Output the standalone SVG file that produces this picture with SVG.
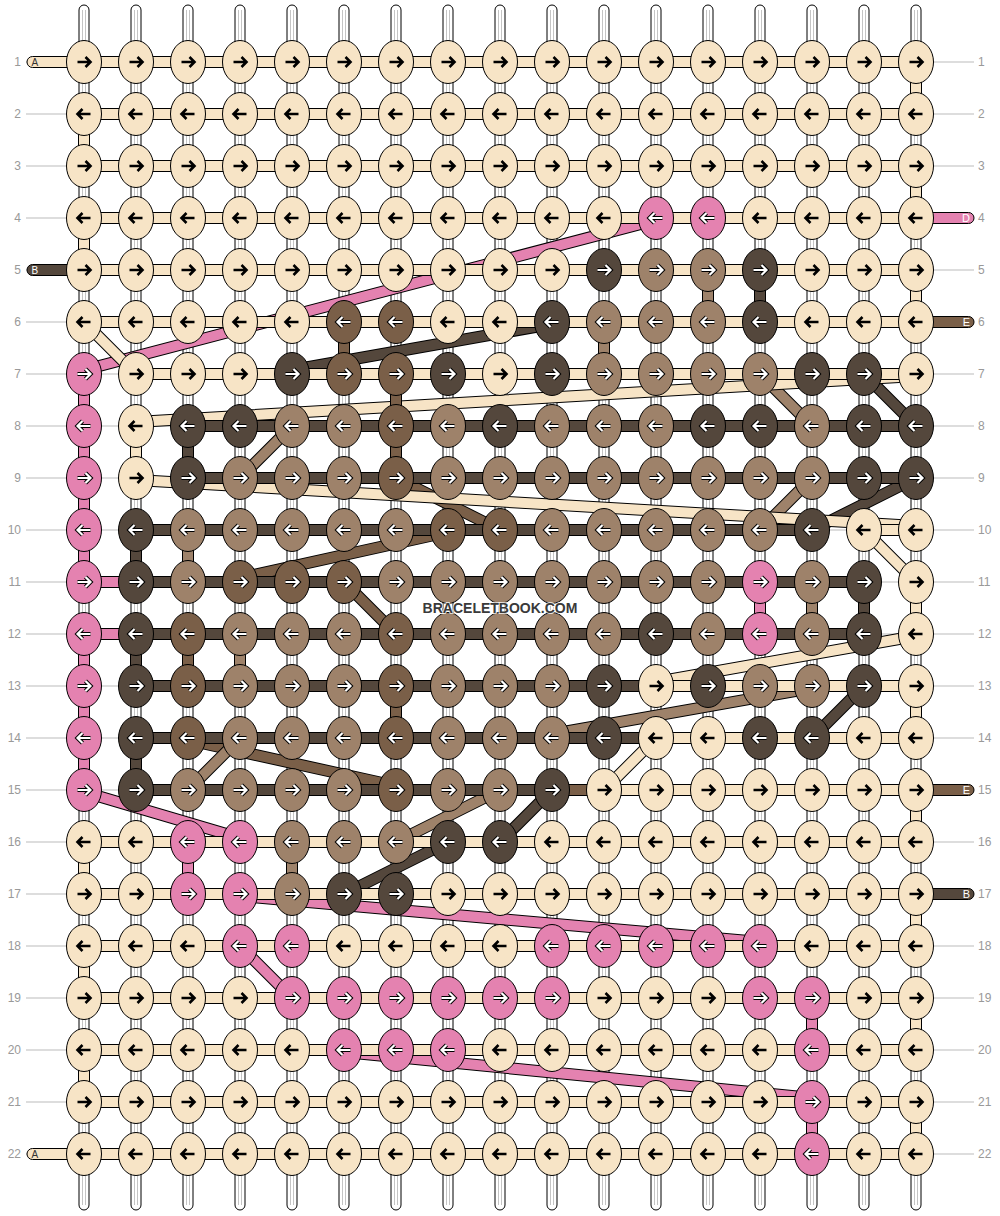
<svg xmlns="http://www.w3.org/2000/svg" xmlns:xlink="http://www.w3.org/1999/xlink" width="1000" height="1216" viewBox="0 0 1000 1216">
<style>
.rl{stroke:#bbb;stroke-width:1;fill:none}
.nl,.nr{font-family:"Liberation Sans",Arial,sans-serif;font-size:12px;fill:#999}
.nl{text-anchor:end}
.b{stroke:#000;stroke-width:1}
.w{fill:#F7E4C6}.p{fill:#E482B0}.l{fill:#9E826A}.m{fill:#7A5F48}.k{fill:#54473C}
.o,.sw,.sp,.sl,.sm,.sk{fill:none}
.o{stroke:#000;stroke-width:12}
.sw{stroke:#F7E4C6;stroke-width:10}.sp{stroke:#E482B0;stroke-width:10}.sl{stroke:#9E826A;stroke-width:10}.sm{stroke:#7A5F48;stroke-width:10}.sk{stroke:#54473C;stroke-width:10}
.tl{font-family:"Liberation Sans",Arial,sans-serif;font-size:10px}
.tr{font-family:"Liberation Sans",Arial,sans-serif;font-size:11px;text-anchor:end;fill:#fff}
.wm{font-family:"Liberation Sans",Arial,sans-serif;font-size:14px;font-weight:bold;text-anchor:middle;fill:#3a3a3a;stroke:#fff;stroke-width:2;stroke-opacity:.8;paint-order:stroke}
</style>
<defs>
<g id="wp"><rect x="-5" y="5" width="10" height="1205" rx="5" fill="#fff" stroke="#000" stroke-width="1"/><path d="M-1.5 10V1205M1.5 10V1205" stroke="#c4c4c4" stroke-width="1"/></g>
<ellipse id="e" rx="17.5" ry="21.5" stroke="#000" stroke-width="1"/>
<path id="ar" d="M-6.5 0H6M1.5-5 6.5 0 1.5 5" fill="none"/>
<path id="al" d="M6.5 0H-6M-1.5-5-6.5 0-1.5 5" fill="none"/>
<g id="W1"><use href="#e" fill="#F7E4C6"/><use href="#ar" stroke="#000" stroke-width="2.6"/></g>
<g id="W2"><use href="#e" fill="#F7E4C6"/><use href="#al" stroke="#000" stroke-width="2.6"/></g>
<g id="P1"><use href="#e" fill="#E482B0"/><use href="#ar" stroke="#000" stroke-width="4.2"/><use href="#ar" stroke="#fff" stroke-width="2.2"/></g>
<g id="P2"><use href="#e" fill="#E482B0"/><use href="#al" stroke="#000" stroke-width="4.2"/><use href="#al" stroke="#fff" stroke-width="2.2"/></g>
<g id="L1"><use href="#e" fill="#9E826A"/><use href="#ar" stroke="#000" stroke-width="4.2"/><use href="#ar" stroke="#fff" stroke-width="2.2"/></g>
<g id="L2"><use href="#e" fill="#9E826A"/><use href="#al" stroke="#000" stroke-width="4.2"/><use href="#al" stroke="#fff" stroke-width="2.2"/></g>
<g id="M1"><use href="#e" fill="#7A5F48"/><use href="#ar" stroke="#000" stroke-width="4.2"/><use href="#ar" stroke="#fff" stroke-width="2.2"/></g>
<g id="M2"><use href="#e" fill="#7A5F48"/><use href="#al" stroke="#000" stroke-width="4.2"/><use href="#al" stroke="#fff" stroke-width="2.2"/></g>
<g id="K1"><use href="#e" fill="#54473C"/><use href="#ar" stroke="#000" stroke-width="4.2"/><use href="#ar" stroke="#fff" stroke-width="2.2"/></g>
<g id="K2"><use href="#e" fill="#54473C"/><use href="#al" stroke="#000" stroke-width="4.2"/><use href="#al" stroke="#fff" stroke-width="2.2"/></g>
</defs>
<rect width="1000" height="1216" fill="#fff"/>
<path class="rl" d="M26 62H974M26 114H974M26 166H974M26 218H974M26 270H974M26 322H974M26 374H974M26 426H974M26 478H974M26 530H974M26 582H974M26 634H974M26 686H974M26 738H974M26 790H974M26 842H974M26 894H974M26 946H974M26 998H974M26 1050H974M26 1102H974M26 1154H974"/>
<g id="warps">
<use href="#wp" x="84"/><use href="#wp" x="136"/><use href="#wp" x="188"/><use href="#wp" x="240"/><use href="#wp" x="292"/><use href="#wp" x="344"/><use href="#wp" x="396"/><use href="#wp" x="448"/><use href="#wp" x="500"/><use href="#wp" x="552"/><use href="#wp" x="604"/><use href="#wp" x="656"/><use href="#wp" x="708"/><use href="#wp" x="760"/><use href="#wp" x="812"/><use href="#wp" x="864"/><use href="#wp" x="916"/>
</g>
<g id="connectors">
<rect class="b w" x="27" y="56.5" width="60" height="11" rx="5.5"/>
<rect class="b k" x="27" y="264.5" width="60" height="11" rx="5.5"/>
<rect class="b w" x="27" y="1148.5" width="60" height="11" rx="5.5"/>
<rect class="b p" x="910" y="212.5" width="64" height="11" rx="5.5"/>
<rect class="b m" x="910" y="316.5" width="64" height="11" rx="5.5"/>
<rect class="b m" x="910" y="784.5" width="64" height="11" rx="5.5"/>
<rect class="b k" x="910" y="888.5" width="64" height="11" rx="5.5"/>
<path class="o" d="M656 220L84 370M84 792L240 838M240 896L760 942M240 946L292 998M344 1052L812 1098"/>
<path class="sp" d="M656 220L84 370M84 792L240 838M240 896L760 942M240 946L292 998M344 1052L812 1098"/>
<path class="o" d="M396 478L500 530M448 532L240 578M344 582L396 634M188 740L396 786"/>
<path class="sm" d="M396 478L500 530M448 532L240 578M344 582L396 634M188 740L396 786"/>
<path class="o" d="M760 374L812 426M292 426L240 478M812 478L760 530M812 688L552 734M240 738L188 790M500 790L396 842"/>
<path class="sl" d="M760 374L812 426M292 426L240 478M812 478L760 530M812 688L552 734M240 738L188 790M500 790L396 842"/>
<path class="o" d="M552 324L292 370M864 374L916 426M916 478L812 530M864 686L812 738M552 790L500 842M448 842L344 894"/>
<path class="sk" d="M552 324L292 370M864 374L916 426M916 478L812 530M864 686L812 738M552 790L500 842M448 842L344 894"/>
<path class="o" d="M84 322L136 374M916 376L136 422M136 480L916 526M864 530L916 582M916 636L656 682M656 738L604 790"/>
<path class="sw" d="M84 322L136 374M916 376L136 422M136 480L916 526M864 530L916 582M916 636L656 682M656 738L604 790"/>
<path class="b p" d="M84 576.5h52v11h-52zM84 628.5h52v11h-52zM78.5 374h11v52h-11zM78.5 426h11v52h-11zM78.5 478h11v52h-11zM78.5 530h11v52h-11zM78.5 634h11v52h-11zM78.5 686h11v52h-11zM78.5 738h11v52h-11zM754.5 582h11v52h-11zM182.5 842h11v52h-11zM806.5 998h11v52h-11zM806.5 1102h11v52h-11z"/>
<path class="b m" d="M552 784.5h52v11h-52zM338.5 322h11v52h-11zM390.5 374h11v52h-11zM390.5 426h11v52h-11zM390.5 686h11v52h-11zM182.5 634h11v52h-11z"/>
<path class="b l" d="M702.5 270h11v52h-11zM598.5 322h11v52h-11zM182.5 530h11v52h-11zM806.5 582h11v52h-11zM234.5 634h11v52h-11zM286.5 842h11v52h-11z"/>
<path class="b k" d="M188 420.5h728v11h-728zM188 472.5h728v11h-728zM136 524.5h676v11h-676zM136 576.5h728v11h-728zM136 628.5h728v11h-728zM136 680.5h520v11h-520zM136 732.5h520v11h-520zM136 784.5h416v11h-416zM754.5 270h11v52h-11zM182.5 426h11v52h-11zM130.5 530h11v52h-11zM130.5 634h11v52h-11zM130.5 738h11v52h-11zM858.5 582h11v52h-11z"/>
<path class="b w" d="M84 56.5h832v11h-832zM84 108.5h832v11h-832zM84 160.5h832v11h-832zM84 212.5h832v11h-832zM84 264.5h832v11h-832zM84 316.5h832v11h-832zM136 368.5h780v11h-780zM864 524.5h52v11h-52zM656 680.5h260v11h-260zM656 732.5h260v11h-260zM604 784.5h312v11h-312zM84 836.5h832v11h-832zM84 888.5h832v11h-832zM84 940.5h832v11h-832zM84 992.5h832v11h-832zM84 1044.5h832v11h-832zM84 1096.5h832v11h-832zM84 1148.5h832v11h-832zM910.5 62h11v52h-11zM910.5 166h11v52h-11zM910.5 270h11v52h-11zM910.5 582h11v52h-11zM910.5 686h11v52h-11zM910.5 790h11v52h-11zM910.5 894h11v52h-11zM910.5 998h11v52h-11zM910.5 1102h11v52h-11zM78.5 114h11v52h-11zM78.5 218h11v52h-11zM78.5 842h11v52h-11zM78.5 946h11v52h-11zM78.5 1050h11v52h-11zM130.5 426h11v52h-11z"/>
</g>
<g id="knots">
<g id="k1-1"><use href="#W1" x="84" y="62"/></g><g id="k1-2"><use href="#W1" x="136" y="62"/></g><g id="k1-3"><use href="#W1" x="188" y="62"/></g><g id="k1-4"><use href="#W1" x="240" y="62"/></g><g id="k1-5"><use href="#W1" x="292" y="62"/></g><g id="k1-6"><use href="#W1" x="344" y="62"/></g><g id="k1-7"><use href="#W1" x="396" y="62"/></g><g id="k1-8"><use href="#W1" x="448" y="62"/></g><g id="k1-9"><use href="#W1" x="500" y="62"/></g><g id="k1-10"><use href="#W1" x="552" y="62"/></g><g id="k1-11"><use href="#W1" x="604" y="62"/></g><g id="k1-12"><use href="#W1" x="656" y="62"/></g><g id="k1-13"><use href="#W1" x="708" y="62"/></g><g id="k1-14"><use href="#W1" x="760" y="62"/></g><g id="k1-15"><use href="#W1" x="812" y="62"/></g><g id="k1-16"><use href="#W1" x="864" y="62"/></g><g id="k1-17"><use href="#W1" x="916" y="62"/></g>
<g id="k2-1"><use href="#W2" x="84" y="114"/></g><g id="k2-2"><use href="#W2" x="136" y="114"/></g><g id="k2-3"><use href="#W2" x="188" y="114"/></g><g id="k2-4"><use href="#W2" x="240" y="114"/></g><g id="k2-5"><use href="#W2" x="292" y="114"/></g><g id="k2-6"><use href="#W2" x="344" y="114"/></g><g id="k2-7"><use href="#W2" x="396" y="114"/></g><g id="k2-8"><use href="#W2" x="448" y="114"/></g><g id="k2-9"><use href="#W2" x="500" y="114"/></g><g id="k2-10"><use href="#W2" x="552" y="114"/></g><g id="k2-11"><use href="#W2" x="604" y="114"/></g><g id="k2-12"><use href="#W2" x="656" y="114"/></g><g id="k2-13"><use href="#W2" x="708" y="114"/></g><g id="k2-14"><use href="#W2" x="760" y="114"/></g><g id="k2-15"><use href="#W2" x="812" y="114"/></g><g id="k2-16"><use href="#W2" x="864" y="114"/></g><g id="k2-17"><use href="#W2" x="916" y="114"/></g>
<g id="k3-1"><use href="#W1" x="84" y="166"/></g><g id="k3-2"><use href="#W1" x="136" y="166"/></g><g id="k3-3"><use href="#W1" x="188" y="166"/></g><g id="k3-4"><use href="#W1" x="240" y="166"/></g><g id="k3-5"><use href="#W1" x="292" y="166"/></g><g id="k3-6"><use href="#W1" x="344" y="166"/></g><g id="k3-7"><use href="#W1" x="396" y="166"/></g><g id="k3-8"><use href="#W1" x="448" y="166"/></g><g id="k3-9"><use href="#W1" x="500" y="166"/></g><g id="k3-10"><use href="#W1" x="552" y="166"/></g><g id="k3-11"><use href="#W1" x="604" y="166"/></g><g id="k3-12"><use href="#W1" x="656" y="166"/></g><g id="k3-13"><use href="#W1" x="708" y="166"/></g><g id="k3-14"><use href="#W1" x="760" y="166"/></g><g id="k3-15"><use href="#W1" x="812" y="166"/></g><g id="k3-16"><use href="#W1" x="864" y="166"/></g><g id="k3-17"><use href="#W1" x="916" y="166"/></g>
<g id="k4-1"><use href="#W2" x="84" y="218"/></g><g id="k4-2"><use href="#W2" x="136" y="218"/></g><g id="k4-3"><use href="#W2" x="188" y="218"/></g><g id="k4-4"><use href="#W2" x="240" y="218"/></g><g id="k4-5"><use href="#W2" x="292" y="218"/></g><g id="k4-6"><use href="#W2" x="344" y="218"/></g><g id="k4-7"><use href="#W2" x="396" y="218"/></g><g id="k4-8"><use href="#W2" x="448" y="218"/></g><g id="k4-9"><use href="#W2" x="500" y="218"/></g><g id="k4-10"><use href="#W2" x="552" y="218"/></g><g id="k4-11"><use href="#W2" x="604" y="218"/></g><g id="k4-12"><use href="#P2" x="656" y="218"/></g><g id="k4-13"><use href="#P2" x="708" y="218"/></g><g id="k4-14"><use href="#W2" x="760" y="218"/></g><g id="k4-15"><use href="#W2" x="812" y="218"/></g><g id="k4-16"><use href="#W2" x="864" y="218"/></g><g id="k4-17"><use href="#W2" x="916" y="218"/></g>
<g id="k5-1"><use href="#W1" x="84" y="270"/></g><g id="k5-2"><use href="#W1" x="136" y="270"/></g><g id="k5-3"><use href="#W1" x="188" y="270"/></g><g id="k5-4"><use href="#W1" x="240" y="270"/></g><g id="k5-5"><use href="#W1" x="292" y="270"/></g><g id="k5-6"><use href="#W1" x="344" y="270"/></g><g id="k5-7"><use href="#W1" x="396" y="270"/></g><g id="k5-8"><use href="#W1" x="448" y="270"/></g><g id="k5-9"><use href="#W1" x="500" y="270"/></g><g id="k5-10"><use href="#W1" x="552" y="270"/></g><g id="k5-11"><use href="#K1" x="604" y="270"/></g><g id="k5-12"><use href="#L1" x="656" y="270"/></g><g id="k5-13"><use href="#L1" x="708" y="270"/></g><g id="k5-14"><use href="#K1" x="760" y="270"/></g><g id="k5-15"><use href="#W1" x="812" y="270"/></g><g id="k5-16"><use href="#W1" x="864" y="270"/></g><g id="k5-17"><use href="#W1" x="916" y="270"/></g>
<g id="k6-1"><use href="#W2" x="84" y="322"/></g><g id="k6-2"><use href="#W2" x="136" y="322"/></g><g id="k6-3"><use href="#W2" x="188" y="322"/></g><g id="k6-4"><use href="#W2" x="240" y="322"/></g><g id="k6-5"><use href="#W2" x="292" y="322"/></g><g id="k6-6"><use href="#M2" x="344" y="322"/></g><g id="k6-7"><use href="#M2" x="396" y="322"/></g><g id="k6-8"><use href="#W2" x="448" y="322"/></g><g id="k6-9"><use href="#W2" x="500" y="322"/></g><g id="k6-10"><use href="#K2" x="552" y="322"/></g><g id="k6-11"><use href="#L2" x="604" y="322"/></g><g id="k6-12"><use href="#L2" x="656" y="322"/></g><g id="k6-13"><use href="#L2" x="708" y="322"/></g><g id="k6-14"><use href="#K2" x="760" y="322"/></g><g id="k6-15"><use href="#W2" x="812" y="322"/></g><g id="k6-16"><use href="#W2" x="864" y="322"/></g><g id="k6-17"><use href="#W2" x="916" y="322"/></g>
<g id="k7-1"><use href="#P1" x="84" y="374"/></g><g id="k7-2"><use href="#W1" x="136" y="374"/></g><g id="k7-3"><use href="#W1" x="188" y="374"/></g><g id="k7-4"><use href="#W1" x="240" y="374"/></g><g id="k7-5"><use href="#K1" x="292" y="374"/></g><g id="k7-6"><use href="#M1" x="344" y="374"/></g><g id="k7-7"><use href="#M1" x="396" y="374"/></g><g id="k7-8"><use href="#K1" x="448" y="374"/></g><g id="k7-9"><use href="#W1" x="500" y="374"/></g><g id="k7-10"><use href="#K1" x="552" y="374"/></g><g id="k7-11"><use href="#L1" x="604" y="374"/></g><g id="k7-12"><use href="#L1" x="656" y="374"/></g><g id="k7-13"><use href="#L1" x="708" y="374"/></g><g id="k7-14"><use href="#L1" x="760" y="374"/></g><g id="k7-15"><use href="#K1" x="812" y="374"/></g><g id="k7-16"><use href="#K1" x="864" y="374"/></g><g id="k7-17"><use href="#W1" x="916" y="374"/></g>
<g id="k8-1"><use href="#P2" x="84" y="426"/></g><g id="k8-2"><use href="#W2" x="136" y="426"/></g><g id="k8-3"><use href="#K2" x="188" y="426"/></g><g id="k8-4"><use href="#K2" x="240" y="426"/></g><g id="k8-5"><use href="#L2" x="292" y="426"/></g><g id="k8-6"><use href="#L2" x="344" y="426"/></g><g id="k8-7"><use href="#M2" x="396" y="426"/></g><g id="k8-8"><use href="#L2" x="448" y="426"/></g><g id="k8-9"><use href="#K2" x="500" y="426"/></g><g id="k8-10"><use href="#L2" x="552" y="426"/></g><g id="k8-11"><use href="#L2" x="604" y="426"/></g><g id="k8-12"><use href="#L2" x="656" y="426"/></g><g id="k8-13"><use href="#K2" x="708" y="426"/></g><g id="k8-14"><use href="#K2" x="760" y="426"/></g><g id="k8-15"><use href="#L2" x="812" y="426"/></g><g id="k8-16"><use href="#K2" x="864" y="426"/></g><g id="k8-17"><use href="#K2" x="916" y="426"/></g>
<g id="k9-1"><use href="#P1" x="84" y="478"/></g><g id="k9-2"><use href="#W1" x="136" y="478"/></g><g id="k9-3"><use href="#K1" x="188" y="478"/></g><g id="k9-4"><use href="#L1" x="240" y="478"/></g><g id="k9-5"><use href="#L1" x="292" y="478"/></g><g id="k9-6"><use href="#L1" x="344" y="478"/></g><g id="k9-7"><use href="#M1" x="396" y="478"/></g><g id="k9-8"><use href="#L1" x="448" y="478"/></g><g id="k9-9"><use href="#L1" x="500" y="478"/></g><g id="k9-10"><use href="#L1" x="552" y="478"/></g><g id="k9-11"><use href="#L1" x="604" y="478"/></g><g id="k9-12"><use href="#L1" x="656" y="478"/></g><g id="k9-13"><use href="#L1" x="708" y="478"/></g><g id="k9-14"><use href="#L1" x="760" y="478"/></g><g id="k9-15"><use href="#L1" x="812" y="478"/></g><g id="k9-16"><use href="#K1" x="864" y="478"/></g><g id="k9-17"><use href="#K1" x="916" y="478"/></g>
<g id="k10-1"><use href="#P2" x="84" y="530"/></g><g id="k10-2"><use href="#K2" x="136" y="530"/></g><g id="k10-3"><use href="#L2" x="188" y="530"/></g><g id="k10-4"><use href="#L2" x="240" y="530"/></g><g id="k10-5"><use href="#L2" x="292" y="530"/></g><g id="k10-6"><use href="#L2" x="344" y="530"/></g><g id="k10-7"><use href="#L2" x="396" y="530"/></g><g id="k10-8"><use href="#M2" x="448" y="530"/></g><g id="k10-9"><use href="#M2" x="500" y="530"/></g><g id="k10-10"><use href="#L2" x="552" y="530"/></g><g id="k10-11"><use href="#L2" x="604" y="530"/></g><g id="k10-12"><use href="#L2" x="656" y="530"/></g><g id="k10-13"><use href="#L2" x="708" y="530"/></g><g id="k10-14"><use href="#L2" x="760" y="530"/></g><g id="k10-15"><use href="#K2" x="812" y="530"/></g><g id="k10-16"><use href="#W2" x="864" y="530"/></g><g id="k10-17"><use href="#W2" x="916" y="530"/></g>
<g id="k11-1"><use href="#P1" x="84" y="582"/></g><g id="k11-2"><use href="#K1" x="136" y="582"/></g><g id="k11-3"><use href="#L1" x="188" y="582"/></g><g id="k11-4"><use href="#M1" x="240" y="582"/></g><g id="k11-5"><use href="#M1" x="292" y="582"/></g><g id="k11-6"><use href="#M1" x="344" y="582"/></g><g id="k11-7"><use href="#L1" x="396" y="582"/></g><g id="k11-8"><use href="#L1" x="448" y="582"/></g><g id="k11-9"><use href="#L1" x="500" y="582"/></g><g id="k11-10"><use href="#L1" x="552" y="582"/></g><g id="k11-11"><use href="#L1" x="604" y="582"/></g><g id="k11-12"><use href="#L1" x="656" y="582"/></g><g id="k11-13"><use href="#L1" x="708" y="582"/></g><g id="k11-14"><use href="#P1" x="760" y="582"/></g><g id="k11-15"><use href="#L1" x="812" y="582"/></g><g id="k11-16"><use href="#K1" x="864" y="582"/></g><g id="k11-17"><use href="#W1" x="916" y="582"/></g>
<g id="k12-1"><use href="#P2" x="84" y="634"/></g><g id="k12-2"><use href="#K2" x="136" y="634"/></g><g id="k12-3"><use href="#M2" x="188" y="634"/></g><g id="k12-4"><use href="#L2" x="240" y="634"/></g><g id="k12-5"><use href="#L2" x="292" y="634"/></g><g id="k12-6"><use href="#L2" x="344" y="634"/></g><g id="k12-7"><use href="#M2" x="396" y="634"/></g><g id="k12-8"><use href="#L2" x="448" y="634"/></g><g id="k12-9"><use href="#L2" x="500" y="634"/></g><g id="k12-10"><use href="#L2" x="552" y="634"/></g><g id="k12-11"><use href="#L2" x="604" y="634"/></g><g id="k12-12"><use href="#K2" x="656" y="634"/></g><g id="k12-13"><use href="#L2" x="708" y="634"/></g><g id="k12-14"><use href="#P2" x="760" y="634"/></g><g id="k12-15"><use href="#L2" x="812" y="634"/></g><g id="k12-16"><use href="#K2" x="864" y="634"/></g><g id="k12-17"><use href="#W2" x="916" y="634"/></g>
<g id="k13-1"><use href="#P1" x="84" y="686"/></g><g id="k13-2"><use href="#K1" x="136" y="686"/></g><g id="k13-3"><use href="#M1" x="188" y="686"/></g><g id="k13-4"><use href="#L1" x="240" y="686"/></g><g id="k13-5"><use href="#L1" x="292" y="686"/></g><g id="k13-6"><use href="#L1" x="344" y="686"/></g><g id="k13-7"><use href="#M1" x="396" y="686"/></g><g id="k13-8"><use href="#L1" x="448" y="686"/></g><g id="k13-9"><use href="#L1" x="500" y="686"/></g><g id="k13-10"><use href="#L1" x="552" y="686"/></g><g id="k13-11"><use href="#K1" x="604" y="686"/></g><g id="k13-12"><use href="#W1" x="656" y="686"/></g><g id="k13-13"><use href="#K1" x="708" y="686"/></g><g id="k13-14"><use href="#L1" x="760" y="686"/></g><g id="k13-15"><use href="#L1" x="812" y="686"/></g><g id="k13-16"><use href="#K1" x="864" y="686"/></g><g id="k13-17"><use href="#W1" x="916" y="686"/></g>
<g id="k14-1"><use href="#P2" x="84" y="738"/></g><g id="k14-2"><use href="#K2" x="136" y="738"/></g><g id="k14-3"><use href="#M2" x="188" y="738"/></g><g id="k14-4"><use href="#L2" x="240" y="738"/></g><g id="k14-5"><use href="#L2" x="292" y="738"/></g><g id="k14-6"><use href="#L2" x="344" y="738"/></g><g id="k14-7"><use href="#M2" x="396" y="738"/></g><g id="k14-8"><use href="#L2" x="448" y="738"/></g><g id="k14-9"><use href="#L2" x="500" y="738"/></g><g id="k14-10"><use href="#L2" x="552" y="738"/></g><g id="k14-11"><use href="#K2" x="604" y="738"/></g><g id="k14-12"><use href="#W2" x="656" y="738"/></g><g id="k14-13"><use href="#W2" x="708" y="738"/></g><g id="k14-14"><use href="#K2" x="760" y="738"/></g><g id="k14-15"><use href="#K2" x="812" y="738"/></g><g id="k14-16"><use href="#W2" x="864" y="738"/></g><g id="k14-17"><use href="#W2" x="916" y="738"/></g>
<g id="k15-1"><use href="#P1" x="84" y="790"/></g><g id="k15-2"><use href="#K1" x="136" y="790"/></g><g id="k15-3"><use href="#L1" x="188" y="790"/></g><g id="k15-4"><use href="#L1" x="240" y="790"/></g><g id="k15-5"><use href="#L1" x="292" y="790"/></g><g id="k15-6"><use href="#L1" x="344" y="790"/></g><g id="k15-7"><use href="#M1" x="396" y="790"/></g><g id="k15-8"><use href="#L1" x="448" y="790"/></g><g id="k15-9"><use href="#L1" x="500" y="790"/></g><g id="k15-10"><use href="#K1" x="552" y="790"/></g><g id="k15-11"><use href="#W1" x="604" y="790"/></g><g id="k15-12"><use href="#W1" x="656" y="790"/></g><g id="k15-13"><use href="#W1" x="708" y="790"/></g><g id="k15-14"><use href="#W1" x="760" y="790"/></g><g id="k15-15"><use href="#W1" x="812" y="790"/></g><g id="k15-16"><use href="#W1" x="864" y="790"/></g><g id="k15-17"><use href="#W1" x="916" y="790"/></g>
<g id="k16-1"><use href="#W2" x="84" y="842"/></g><g id="k16-2"><use href="#W2" x="136" y="842"/></g><g id="k16-3"><use href="#P2" x="188" y="842"/></g><g id="k16-4"><use href="#P2" x="240" y="842"/></g><g id="k16-5"><use href="#L2" x="292" y="842"/></g><g id="k16-6"><use href="#L2" x="344" y="842"/></g><g id="k16-7"><use href="#L2" x="396" y="842"/></g><g id="k16-8"><use href="#K2" x="448" y="842"/></g><g id="k16-9"><use href="#K2" x="500" y="842"/></g><g id="k16-10"><use href="#W2" x="552" y="842"/></g><g id="k16-11"><use href="#W2" x="604" y="842"/></g><g id="k16-12"><use href="#W2" x="656" y="842"/></g><g id="k16-13"><use href="#W2" x="708" y="842"/></g><g id="k16-14"><use href="#W2" x="760" y="842"/></g><g id="k16-15"><use href="#W2" x="812" y="842"/></g><g id="k16-16"><use href="#W2" x="864" y="842"/></g><g id="k16-17"><use href="#W2" x="916" y="842"/></g>
<g id="k17-1"><use href="#W1" x="84" y="894"/></g><g id="k17-2"><use href="#W1" x="136" y="894"/></g><g id="k17-3"><use href="#P1" x="188" y="894"/></g><g id="k17-4"><use href="#P1" x="240" y="894"/></g><g id="k17-5"><use href="#L1" x="292" y="894"/></g><g id="k17-6"><use href="#K1" x="344" y="894"/></g><g id="k17-7"><use href="#K1" x="396" y="894"/></g><g id="k17-8"><use href="#W1" x="448" y="894"/></g><g id="k17-9"><use href="#W1" x="500" y="894"/></g><g id="k17-10"><use href="#W1" x="552" y="894"/></g><g id="k17-11"><use href="#W1" x="604" y="894"/></g><g id="k17-12"><use href="#W1" x="656" y="894"/></g><g id="k17-13"><use href="#W1" x="708" y="894"/></g><g id="k17-14"><use href="#W1" x="760" y="894"/></g><g id="k17-15"><use href="#W1" x="812" y="894"/></g><g id="k17-16"><use href="#W1" x="864" y="894"/></g><g id="k17-17"><use href="#W1" x="916" y="894"/></g>
<g id="k18-1"><use href="#W2" x="84" y="946"/></g><g id="k18-2"><use href="#W2" x="136" y="946"/></g><g id="k18-3"><use href="#W2" x="188" y="946"/></g><g id="k18-4"><use href="#P2" x="240" y="946"/></g><g id="k18-5"><use href="#P2" x="292" y="946"/></g><g id="k18-6"><use href="#W2" x="344" y="946"/></g><g id="k18-7"><use href="#W2" x="396" y="946"/></g><g id="k18-8"><use href="#W2" x="448" y="946"/></g><g id="k18-9"><use href="#W2" x="500" y="946"/></g><g id="k18-10"><use href="#P2" x="552" y="946"/></g><g id="k18-11"><use href="#P2" x="604" y="946"/></g><g id="k18-12"><use href="#P2" x="656" y="946"/></g><g id="k18-13"><use href="#P2" x="708" y="946"/></g><g id="k18-14"><use href="#P2" x="760" y="946"/></g><g id="k18-15"><use href="#W2" x="812" y="946"/></g><g id="k18-16"><use href="#W2" x="864" y="946"/></g><g id="k18-17"><use href="#W2" x="916" y="946"/></g>
<g id="k19-1"><use href="#W1" x="84" y="998"/></g><g id="k19-2"><use href="#W1" x="136" y="998"/></g><g id="k19-3"><use href="#W1" x="188" y="998"/></g><g id="k19-4"><use href="#W1" x="240" y="998"/></g><g id="k19-5"><use href="#P1" x="292" y="998"/></g><g id="k19-6"><use href="#P1" x="344" y="998"/></g><g id="k19-7"><use href="#P1" x="396" y="998"/></g><g id="k19-8"><use href="#P1" x="448" y="998"/></g><g id="k19-9"><use href="#P1" x="500" y="998"/></g><g id="k19-10"><use href="#P1" x="552" y="998"/></g><g id="k19-11"><use href="#W1" x="604" y="998"/></g><g id="k19-12"><use href="#W1" x="656" y="998"/></g><g id="k19-13"><use href="#W1" x="708" y="998"/></g><g id="k19-14"><use href="#P1" x="760" y="998"/></g><g id="k19-15"><use href="#P1" x="812" y="998"/></g><g id="k19-16"><use href="#W1" x="864" y="998"/></g><g id="k19-17"><use href="#W1" x="916" y="998"/></g>
<g id="k20-1"><use href="#W2" x="84" y="1050"/></g><g id="k20-2"><use href="#W2" x="136" y="1050"/></g><g id="k20-3"><use href="#W2" x="188" y="1050"/></g><g id="k20-4"><use href="#W2" x="240" y="1050"/></g><g id="k20-5"><use href="#W2" x="292" y="1050"/></g><g id="k20-6"><use href="#P2" x="344" y="1050"/></g><g id="k20-7"><use href="#P2" x="396" y="1050"/></g><g id="k20-8"><use href="#P2" x="448" y="1050"/></g><g id="k20-9"><use href="#W2" x="500" y="1050"/></g><g id="k20-10"><use href="#W2" x="552" y="1050"/></g><g id="k20-11"><use href="#W2" x="604" y="1050"/></g><g id="k20-12"><use href="#W2" x="656" y="1050"/></g><g id="k20-13"><use href="#W2" x="708" y="1050"/></g><g id="k20-14"><use href="#W2" x="760" y="1050"/></g><g id="k20-15"><use href="#P2" x="812" y="1050"/></g><g id="k20-16"><use href="#W2" x="864" y="1050"/></g><g id="k20-17"><use href="#W2" x="916" y="1050"/></g>
<g id="k21-1"><use href="#W1" x="84" y="1102"/></g><g id="k21-2"><use href="#W1" x="136" y="1102"/></g><g id="k21-3"><use href="#W1" x="188" y="1102"/></g><g id="k21-4"><use href="#W1" x="240" y="1102"/></g><g id="k21-5"><use href="#W1" x="292" y="1102"/></g><g id="k21-6"><use href="#W1" x="344" y="1102"/></g><g id="k21-7"><use href="#W1" x="396" y="1102"/></g><g id="k21-8"><use href="#W1" x="448" y="1102"/></g><g id="k21-9"><use href="#W1" x="500" y="1102"/></g><g id="k21-10"><use href="#W1" x="552" y="1102"/></g><g id="k21-11"><use href="#W1" x="604" y="1102"/></g><g id="k21-12"><use href="#W1" x="656" y="1102"/></g><g id="k21-13"><use href="#W1" x="708" y="1102"/></g><g id="k21-14"><use href="#W1" x="760" y="1102"/></g><g id="k21-15"><use href="#P1" x="812" y="1102"/></g><g id="k21-16"><use href="#W1" x="864" y="1102"/></g><g id="k21-17"><use href="#W1" x="916" y="1102"/></g>
<g id="k22-1"><use href="#W2" x="84" y="1154"/></g><g id="k22-2"><use href="#W2" x="136" y="1154"/></g><g id="k22-3"><use href="#W2" x="188" y="1154"/></g><g id="k22-4"><use href="#W2" x="240" y="1154"/></g><g id="k22-5"><use href="#W2" x="292" y="1154"/></g><g id="k22-6"><use href="#W2" x="344" y="1154"/></g><g id="k22-7"><use href="#W2" x="396" y="1154"/></g><g id="k22-8"><use href="#W2" x="448" y="1154"/></g><g id="k22-9"><use href="#W2" x="500" y="1154"/></g><g id="k22-10"><use href="#W2" x="552" y="1154"/></g><g id="k22-11"><use href="#W2" x="604" y="1154"/></g><g id="k22-12"><use href="#W2" x="656" y="1154"/></g><g id="k22-13"><use href="#W2" x="708" y="1154"/></g><g id="k22-14"><use href="#W2" x="760" y="1154"/></g><g id="k22-15"><use href="#P2" x="812" y="1154"/></g><g id="k22-16"><use href="#W2" x="864" y="1154"/></g><g id="k22-17"><use href="#W2" x="916" y="1154"/></g>
</g>
<g id="labels">
<text class="tl" x="31.5" y="66" fill="#333">A</text>
<text class="tl" x="31.5" y="274" fill="#fff">B</text>
<text class="tl" x="31.5" y="1158" fill="#333">A</text>
<text class="tr" x="970" y="222">D</text>
<text class="tr" x="970" y="326">E</text>
<text class="tr" x="970" y="794">E</text>
<text class="tr" x="970" y="898">B</text>
<text class="nl" x="21" y="66.3">1</text><text class="nl" x="21" y="118.3">2</text><text class="nl" x="21" y="170.3">3</text><text class="nl" x="21" y="222.3">4</text><text class="nl" x="21" y="274.3">5</text><text class="nl" x="21" y="326.3">6</text><text class="nl" x="21" y="378.3">7</text><text class="nl" x="21" y="430.3">8</text><text class="nl" x="21" y="482.3">9</text><text class="nl" x="21" y="534.3">10</text><text class="nl" x="21" y="586.3">11</text><text class="nl" x="21" y="638.3">12</text><text class="nl" x="21" y="690.3">13</text><text class="nl" x="21" y="742.3">14</text><text class="nl" x="21" y="794.3">15</text><text class="nl" x="21" y="846.3">16</text><text class="nl" x="21" y="898.3">17</text><text class="nl" x="21" y="950.3">18</text><text class="nl" x="21" y="1002.3">19</text><text class="nl" x="21" y="1054.3">20</text><text class="nl" x="21" y="1106.3">21</text><text class="nl" x="21" y="1158.3">22</text>
<text class="nr" x="978" y="66.3">1</text><text class="nr" x="978" y="118.3">2</text><text class="nr" x="978" y="170.3">3</text><text class="nr" x="978" y="222.3">4</text><text class="nr" x="978" y="274.3">5</text><text class="nr" x="978" y="326.3">6</text><text class="nr" x="978" y="378.3">7</text><text class="nr" x="978" y="430.3">8</text><text class="nr" x="978" y="482.3">9</text><text class="nr" x="978" y="534.3">10</text><text class="nr" x="978" y="586.3">11</text><text class="nr" x="978" y="638.3">12</text><text class="nr" x="978" y="690.3">13</text><text class="nr" x="978" y="742.3">14</text><text class="nr" x="978" y="794.3">15</text><text class="nr" x="978" y="846.3">16</text><text class="nr" x="978" y="898.3">17</text><text class="nr" x="978" y="950.3">18</text><text class="nr" x="978" y="1002.3">19</text><text class="nr" x="978" y="1054.3">20</text><text class="nr" x="978" y="1106.3">21</text><text class="nr" x="978" y="1158.3">22</text>
<text class="wm" x="500" y="613">BRACELETBOOK.COM</text>
</g>
</svg>
